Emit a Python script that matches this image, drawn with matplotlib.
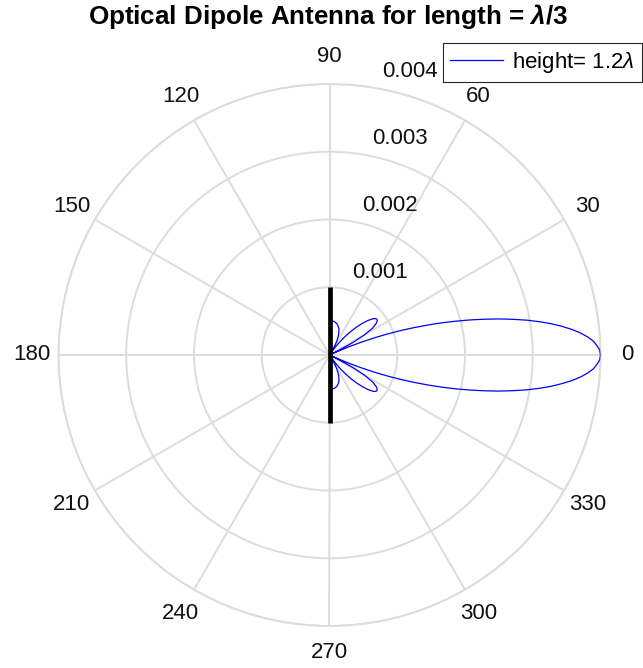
import numpy as np
import matplotlib
matplotlib.use("Agg")
import matplotlib.pyplot as plt

plt.rcParams["font.family"] = ["Liberation Sans", "DejaVu Sans"]
plt.rcParams["mathtext.fontset"] = "custom"
plt.rcParams["mathtext.rm"] = "Liberation Sans"
plt.rcParams["mathtext.it"] = "Liberation Sans:italic"
plt.rcParams["mathtext.bf"] = "Liberation Sans:bold:italic"

# Far-field pattern, upper half (the pattern is symmetric about 0 deg)
theta_deg = [0, 1, 2, 3, 4, 5, 6, 7, 8, 9, 10, 11, 12, 13, 14, 15, 16, 17, 18, 19,
             20, 21, 22, 23, 24, 25,
             26, 28, 30, 32, 34, 35, 36, 37, 38, 39, 40, 42, 44, 46, 48, 50, 52, 54, 56,
             58, 60, 62, 64, 66, 68, 70, 72, 74, 76, 78, 80, 82, 84, 86, 88, 90]
pattern_mE = [4.00, 3.99, 3.95, 3.90, 3.82, 3.72, 3.60, 3.46, 3.31, 3.14, 2.96, 2.76, 2.56, 2.35,
              2.14, 1.93, 1.72, 1.51, 1.30, 1.10,
              0.90, 0.70, 0.50, 0.31, 0.12, 0.0,
              0.10, 0.38, 0.60, 0.75, 0.83, 0.855, 0.87, 0.875, 0.87, 0.855, 0.83, 0.76, 0.67,
              0.57, 0.46, 0.35, 0.24, 0.13, 0.0,
              0.07, 0.15, 0.22, 0.28, 0.33, 0.37, 0.41, 0.43, 0.45, 0.47, 0.48, 0.49, 0.50,
              0.50, 0.50, 0.50, 0.50]

# Dipole drawn along the 90/270 axis
dipole_theta_deg = [90, 0, 270]
dipole_r = [0.001, 0.0, 0.001]

r_ticks = [0.001, 0.002, 0.003, 0.004]
r_tick_labels = ["0.001", "0.002", "0.003", "0.004"]
theta_ticks = list(range(0, 360, 30))

title_text = "Optical Dipole Antenna for length = $\\mathbf{\\lambda}$/3"
legend_text = "height= 1.2$\\lambda$"

grid_color = "#dcdcdc"
text_color = "#111111"

th_half = np.deg2rad(theta_deg)
r_half = np.array(pattern_mE) * 1e-3
theta_full = np.concatenate([-th_half[::-1], th_half[1:]])
r_full = np.concatenate([r_half[::-1], r_half[1:]])

fig = plt.figure(figsize=(6.43, 6.68), dpi=100)
ax = fig.add_axes([58.5 / 643, 42 / 668, 542 / 643, 542 / 668], projection="polar")

ax.plot(theta_full, r_full, color="blue", lw=0.9, label=legend_text, zorder=3)
ax.plot(np.deg2rad(dipole_theta_deg), dipole_r, color="black", lw=3.4,
        solid_capstyle="butt", zorder=4)

ax.set_rlim(0, r_ticks[-1])
ax.set_rticks(r_ticks)
ax.set_yticklabels([])
ax.set_thetagrids(theta_ticks, labels=[""] * len(theta_ticks))
ax.grid(True, color=grid_color, lw=1.4)
ax.spines["polar"].set_color(grid_color)
ax.spines["polar"].set_linewidth(1.4)
ax.tick_params(axis="both", length=0)

# Angle labels outside the outer ring
r_lab = r_ticks[-1] * 298 / 271
for t in theta_ticks:
    ax.text(np.deg2rad(t), r_lab, str(t), ha="center", va="center",
            fontsize=16, color=text_color, clip_on=False)

# Radius labels
for rv, lab in zip(r_ticks, r_tick_labels):
    ax.annotate(lab, xy=(np.deg2rad(81.5), rv), xytext=(9.4, 7.2),
                textcoords="offset points", ha="left", va="baseline",
                fontsize=16, color=text_color, annotation_clip=False)

leg = ax.legend(loc="upper right", bbox_to_anchor=(641.5 / 643, 1 - 43.3 / 668),
                bbox_transform=fig.transFigure, borderaxespad=0, fontsize=16,
                handlelength=2.4, handletextpad=0.4, borderpad=0.3,
                fancybox=False, framealpha=1)
leg.get_frame().set_edgecolor("#262626")
leg.get_frame().set_linewidth(0.8)

fig.text(328 / 643, 1 - 24 / 668, title_text, ha="center", va="baseline",
         fontsize=18.7, fontweight="bold", color="black")

fig.savefig("out.png", dpi=100)
